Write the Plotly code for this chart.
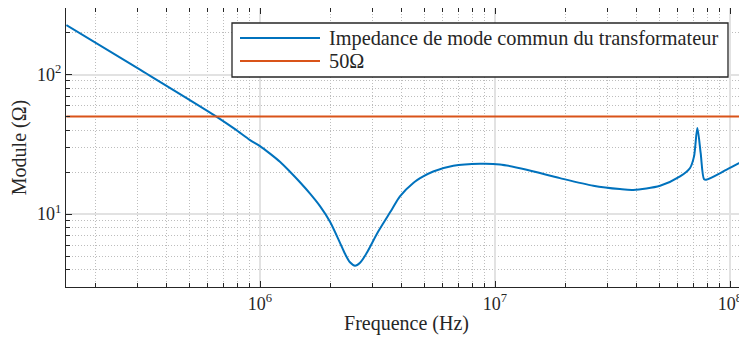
import math
import plotly.graph_objects as go

# ---- data ----
freq_hz = [1.5e5, 3.1e5, 6.5e5, 7.83e5, 9.07e5, 1.0e6, 1.103e6, 1.216e6, 1.342e6,
           1.48e6, 1.633e6, 1.8e6, 1.986e6, 2.19e6, 2.3e6, 2.415e6, 2.537e6,
           2.665e6, 2.844e6, 3.18e6, 3.635e6, 3.94e6, 4.49e6, 4.95e6, 5.46e6,
           6.65e6, 8.64e6, 1.05e7, 1.364e7, 1.89e7, 2.62e7, 3.40e7, 3.87e7,
           5.04e7, 6.13e7, 6.76e7, 7.03e7, 7.26e7, 7.50e7, 7.75e7, 7.91e7,
           9.68e7, 1.18e8]
impedance_ohm = [226, 108, 50.2, 40.6, 33.9, 30.7, 27.1, 23.7, 20.1,
                 16.9, 14.0, 11.4, 8.81, 6.22, 5.19, 4.51, 4.26,
                 4.47, 5.25, 7.46, 10.74, 13.4, 16.7, 18.6, 20.2,
                 22.2, 22.96, 22.7, 20.8, 18.1, 15.97, 15.1, 14.9,
                 15.97, 18.6, 21.4, 25.9, 41.4, 27.4, 17.8, 17.6,
                 20.8, 24.8]
ref_freq_hz = [1.5e5, 1.2e8]
ref_ohm = [50, 50]

series_names = ["Impedance de mode commun du transformateur", "50Ω"]
series_colors = ["#0072BD", "#D95319"]
x_tickvals = [1e6, 1e7, 1e8]
x_ticktext = ["10<sup>6</sup>", "10<sup>7</sup>", "10<sup>8</sup>"]
y_tickvals = [10, 100]
y_ticktext = ["10<sup>1</sup>", "10<sup>2</sup>"]
x_minor = [m * 10 ** e for e in (5, 6, 7) for m in range(2, 10)]
y_minor = [m * 10 ** e for e in (0, 1, 2) for m in range(2, 10)]

FONT = "Liberation Serif"
AX = "#262626"

fig = go.Figure()
fig.add_trace(go.Scatter(x=freq_hz, y=impedance_ohm, mode="lines",
                         name=series_names[0], showlegend=False,
                         line=dict(color=series_colors[0], width=2, shape="spline", smoothing=0.8)))
fig.add_trace(go.Scatter(x=ref_freq_hz, y=ref_ohm, mode="lines",
                         name=series_names[1], showlegend=False,
                         line=dict(color=series_colors[1], width=2)))

common = dict(
    type="log", showline=True, linecolor=AX, linewidth=1.3, mirror="allticks",
    ticks="inside", ticklen=6, tickcolor=AX, tickwidth=1, automargin=False,
    showgrid=True, gridcolor="#e2e2e2", gridwidth=2, zeroline=False,
    tickfont=dict(family=FONT, size=18, color=AX),
)
minor_style = dict(tickmode="array", ticks="inside", ticklen=4, tickcolor=AX,
                   showgrid=True, griddash="1px,2px", gridcolor="#bdbdbd", gridwidth=1)

fig.update_xaxes(
    **common, range=[5.1745, 8.0723], tickmode="array",
    tickvals=x_tickvals, ticktext=x_ticktext,
    minor=dict(tickvals=x_minor, **minor_style),
    title=dict(text="Frequence (Hz)", font=dict(family=FONT, size=20, color=AX), standoff=8),
)
fig.update_yaxes(
    **common, range=[math.log10(3), math.log10(300)], tickmode="array",
    tickvals=y_tickvals, ticktext=y_ticktext,
    minor=dict(tickvals=y_minor, **minor_style),
    title=dict(text="Module (Ω)", font=dict(family=FONT, size=20, color=AX), standoff=4),
)

# legend box drawn in paper coordinates (plot area: 681 x 279 px)
PW, PH = 681.0, 279.0
def px(x):
    return x / PW
def py(y):
    return 1 - y / PH

shapes = [dict(type="rect", xref="paper", yref="paper",
               x0=px(166), x1=px(662), y0=py(69), y1=py(15),
               fillcolor="white", line=dict(color=AX, width=1.3), layer="above")]
annotations = []
row_y = [30, 53]
for name, color, ry in zip(series_names, series_colors, row_y):
    shapes.append(dict(type="line", xref="paper", yref="paper",
                       x0=px(174), x1=px(254), y0=py(ry), y1=py(ry),
                       line=dict(color=color, width=2), layer="above"))
    annotations.append(dict(text=name, xref="paper", yref="paper",
                            x=px(261), y=py(ry), xanchor="left", yanchor="middle",
                            showarrow=False,
                            font=dict(family=FONT, size=20.3, color=AX)))

# page body has an 8px margin: keep the figure inside the window (no scrollbars)
fig.update_layout(
    width=739, height=327,
    margin=dict(l=58, r=0, t=0, b=48),
    paper_bgcolor="white", plot_bgcolor="white",
    font=dict(family=FONT, color=AX),
    shapes=shapes, annotations=annotations,
    showlegend=False,
)

fig.write_html("out.html")
